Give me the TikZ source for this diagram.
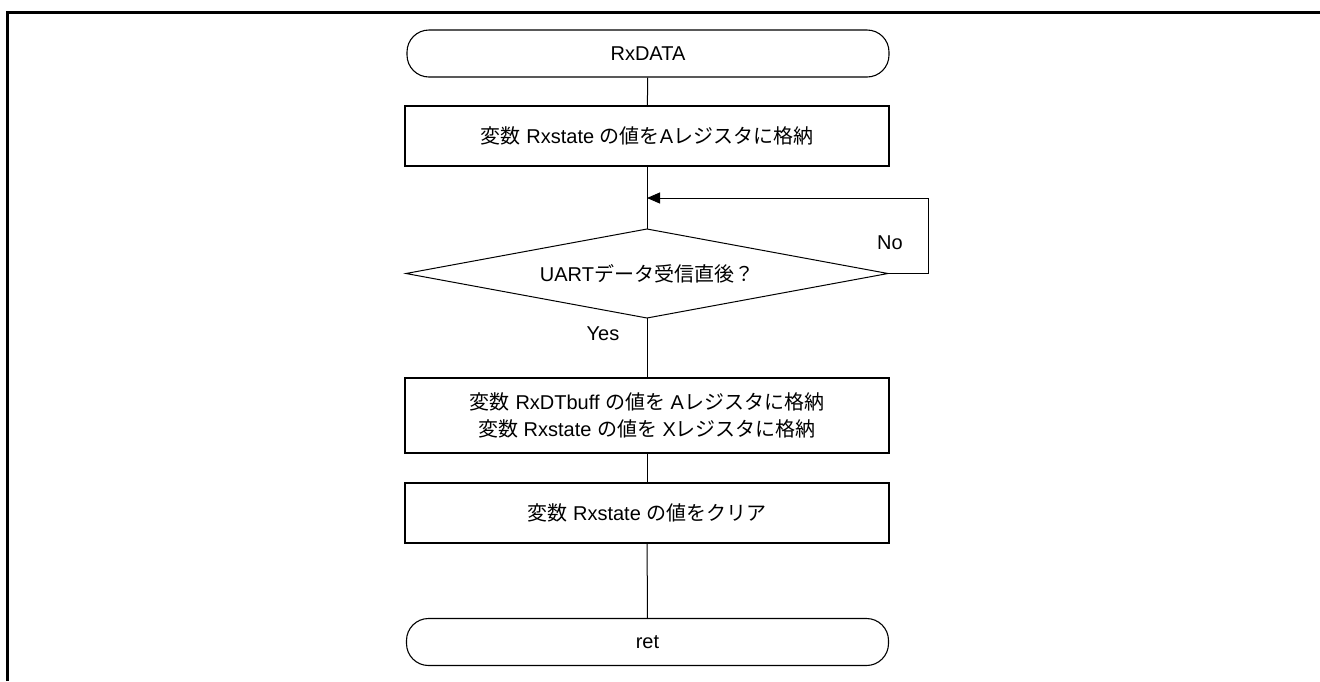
\documentclass[tikz,border=0pt]{standalone}
\usepackage{fontspec}
\setmainfont{Liberation Sans}
\newfontfamily\jpfont{Noto Sans CJK JP}
\newcommand\J[1]{{\jpfont #1}}
\usetikzlibrary{shapes.geometric,arrows.meta}
\begin{document}
\begin{tikzpicture}[x=1pt,y=-1pt,
  every node/.style={font=\fontsize{20}{27}\selectfont},
  term/.style={draw,line width=1.1pt,rounded corners=22pt,minimum width=482pt,minimum height=47pt,inner sep=0pt},
  proc/.style={draw,line width=1.1pt,minimum width=484pt,inner sep=0pt,align=center},
  dec/.style={draw,line width=1pt,diamond,aspect=5.42,minimum width=482pt,minimum height=89pt,inner sep=0pt,outer sep=0pt},
  conn/.style={line width=1pt},
  lbl/.style={inner sep=0pt}]
\useasboundingbox (0,0) rectangle (1320,681);
\draw[line width=3pt] (7.5,681) -- (7.5,12.5) -- (1320,12.5);

\node[term] (start) at (648,53.5) {RxDATA};
\node[proc,minimum height=60pt] (b1) at (647,136) {\J{変数} Rxstate \J{の値を}A\J{レジスタに格納}};
\node[dec] (d) at (647,273.5) {UART\J{データ受信直後？}};
\node[proc,minimum height=75pt] (b2) at (647,415.5) {\J{変数} RxDTbuff \J{の値を} A\J{レジスタに格納}\\\J{変数} Rxstate \J{の値を} X\J{レジスタに格納}};
\node[proc,minimum height=60pt] (b3) at (647,513) {\J{変数} Rxstate \J{の値をクリア}};
\node[term] (ret) at (647.5,642) {ret};

\node[lbl] (no) at (890,243) {No};
\node[lbl] (yes) at (603,334) {Yes};

\coordinate (lp) at (928,198);
\coordinate (m) at (647,198);

\draw[conn] (start) -- (b1);
\draw[conn] (b1) -- (d);
\draw[conn] (d) -- (b2);
\draw[conn] (b2) -- (b3);
\draw[conn] (b3) -- (ret);
\draw[conn,-{Triangle[length=13pt,width=11pt]}] (d.east) -| (lp) -- (m);
\end{tikzpicture}
\end{document}
